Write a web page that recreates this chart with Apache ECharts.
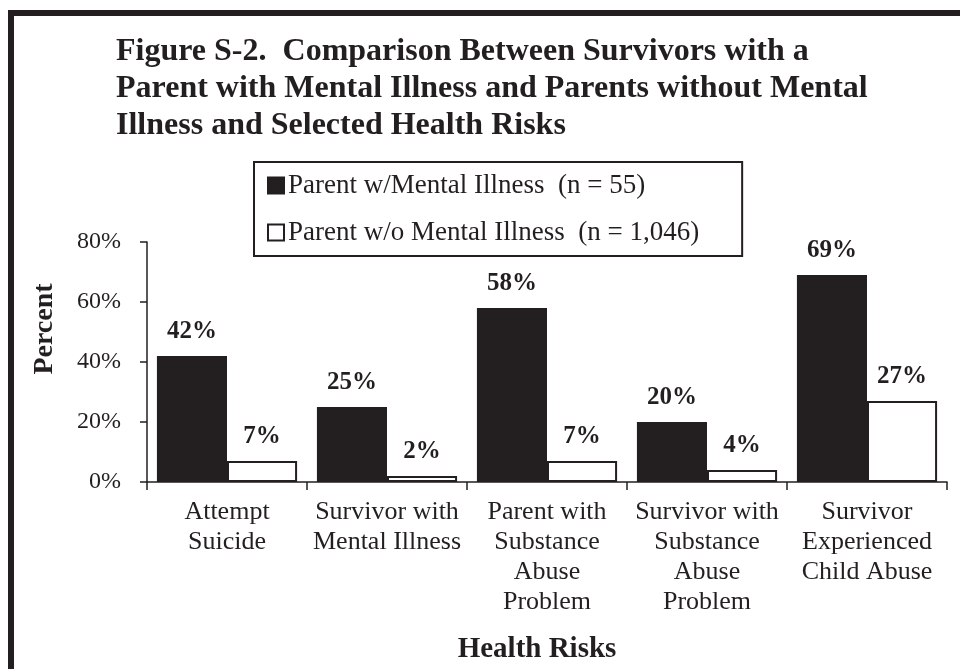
<!DOCTYPE html>
<html lang="en">
<head>
    <meta charset="UTF-8">
    <title>Figure S-2</title>
    <script src="https://cdn.jsdelivr.net/npm/echarts@6/dist/echarts.min.js"></script>
    <style>
        html, body { margin: 0; padding: 0; background: #fff; }
        #main_1 { width: 960px; height: 669px; }
    </style>
</head>
<body>
<div id="main_1"></div>
<script>
    // data
    var categories = [
        'Attempt\nSuicide',
        'Survivor with\nMental Illness',
        'Parent with\nSubstance\nAbuse\nProblem',
        'Survivor with\nSubstance\nAbuse\nProblem',
        'Survivor\nExperienced\nChild Abuse'
    ];
    var withIllness = [42, 25, 58, 20, 69];
    var withoutIllness = [7, 2, 7, 4, 27];
    var seriesNames = ['Parent w/Mental Illness  (n = 55)', 'Parent w/o Mental Illness  (n = 1,046)'];
    var yTicks = [0, 20, 40, 60, 80];

    var ink = '#231f20';
    var serif = '"Liberation Serif", "Times New Roman", serif';

    var myChart = echarts.init(document.getElementById('main_1'));

    var valueLabel = {
        show: true,
        position: 'top',
        distance: 12,
        formatter: '{c}%',
        fontFamily: serif,
        fontWeight: 'bold',
        fontSize: 25,
        color: ink
    };

    var option = {
        backgroundColor: '#fff',
        animation: false,
        title: {
            text: 'Figure S-2.  Comparison Between Survivors with a\nParent with Mental Illness and Parents without Mental\nIllness and Selected Health Risks',
            left: 116,
            top: 33,
            padding: 0,
            textStyle: {
                fontFamily: serif,
                fontWeight: 'bold',
                fontSize: 32,
                lineHeight: 37,
                color: ink
            }
        },
        legend: {
            orient: 'vertical',
            left: 254,
            top: 162,
            padding: [10, 43, 10, 13],
            itemGap: 20,
            itemWidth: 16,
            itemHeight: 16,
            borderColor: ink,
            borderWidth: 2,
            borderRadius: 0,
            icon: 'rect',
            textStyle: {
                fontFamily: serif,
                fontSize: 27,
                color: ink,
                padding: [0, 0, 0, -1]
            },
            data: seriesNames
        },
        grid: {
            left: 147,
            right: 13,
            top: 242,
            bottom: 187
        },
        xAxis: {
            type: 'category',
            data: categories,
            axisLine: { lineStyle: { color: ink, width: 1.5 } },
            axisTick: { show: true, length: 8, lineStyle: { color: ink, width: 1.5 } },
            axisLabel: {
                interval: 0,
                margin: 15,
                fontFamily: serif,
                fontSize: 26,
                lineHeight: 30,
                color: ink
            }
        },
        yAxis: {
            type: 'value',
            min: yTicks[0],
            max: yTicks[yTicks.length - 1],
            interval: 20,
            splitLine: { show: false },
            axisLine: { show: true, lineStyle: { color: ink, width: 1.5 } },
            axisTick: { show: true, length: 7, lineStyle: { color: ink, width: 1.5 } },
            axisLabel: {
                margin: 26,
                formatter: '{value}%',
                fontFamily: serif,
                fontSize: 24,
                color: ink
            }
        },
        graphic: [
            {
                type: 'polyline',
                shape: { points: [[11, 669], [11, 13], [960, 13]] },
                style: { stroke: ink, lineWidth: 6, fill: null }
            },
            {
                type: 'text',
                x: 45,
                y: 329,
                rotation: Math.PI / 2,
                style: {
                    text: 'Percent',
                    fontFamily: serif,
                    fontWeight: 'bold',
                    fontSize: 28,
                    fill: ink,
                    align: 'center',
                    verticalAlign: 'middle'
                }
            },
            {
                type: 'text',
                x: 537,
                y: 650,
                style: {
                    text: 'Health Risks',
                    fontFamily: serif,
                    fontWeight: 'bold',
                    fontSize: 29,
                    fill: ink,
                    align: 'center',
                    verticalAlign: 'middle'
                }
            }
        ],
        series: [
            {
                name: seriesNames[0],
                type: 'bar',
                data: withIllness,
                barGap: '0%',
                barCategoryGap: '12.4%',
                itemStyle: { color: ink, borderColor: ink, borderWidth: 2 },
                label: valueLabel
            },
            {
                name: seriesNames[1],
                type: 'bar',
                data: withoutIllness,
                itemStyle: { color: '#ffffff', borderColor: ink, borderWidth: 2 },
                label: valueLabel
            }
        ]
    };

    myChart.setOption(option);
</script>
</body>
</html>
